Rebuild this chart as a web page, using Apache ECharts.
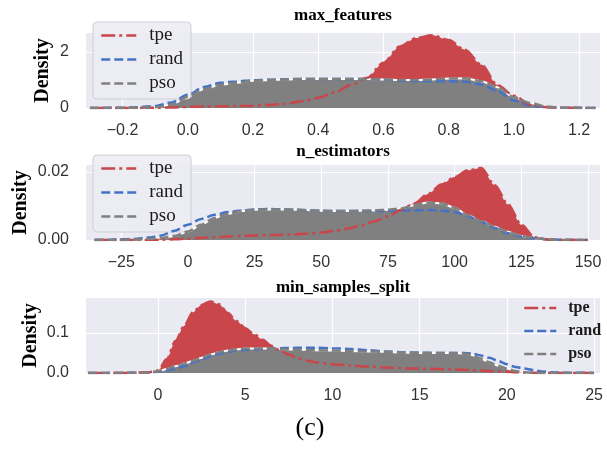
<!DOCTYPE html>
<html>
<head>
<meta charset="utf-8">
<script src="https://cdn.jsdelivr.net/npm/echarts@6/dist/echarts.min.js"></script>
<style>
  html, body { margin: 0; padding: 0; background: #ffffff; }
  #chart { width: 607px; height: 452px; }
</style>
</head>
<body>
<div id="chart"></div>
<script>
// ---- max_features: density curves sampled along x ----
const mfX    = [-0.3,-0.25,-0.2,-0.15,-0.1,-0.05,0,0.05,0.1,0.15,0.2,0.25,0.3,0.35,0.4,0.45,0.5,0.55,0.6,0.65,0.7,0.75,0.8,0.85,0.9,0.95,1.0,1.05,1.1,1.15,1.2,1.25];
const mfTpe  = [0,0,0,0,0.01,0.02,0.04,0.05,0.06,0.07,0.08,0.11,0.15,0.24,0.37,0.55,0.82,1.08,1.62,2.2,2.5,2.6,2.43,2.08,1.55,0.82,0.44,0.12,0.03,0.01,0,0];
const mfRand = [0,0.005,0.01,0.03,0.07,0.2,0.47,0.75,0.9,0.95,0.99,1.01,1.03,1.04,1.04,1.04,1.04,1.04,1.02,0.97,0.96,0.96,0.96,0.94,0.84,0.6,0.27,0.08,0.03,0.01,0.005,0];
const mfPso  = [0,0,0,0.01,0.03,0.12,0.4,0.68,0.83,0.9,0.97,1.0,1.02,1.04,1.04,1.04,1.04,1.04,1.02,1.0,1.0,1.02,1.05,1.06,0.96,0.74,0.38,0.18,0.05,0.01,0,0];
const mfXTicks = [-0.2,0,0.2,0.4,0.6,0.8,1.0,1.2];
const mfYTicks = [0,2];

// ---- n_estimators ----
const neX    = [-35,-30,-25,-20,-15,-10,-5,0,5,10,15,20,25,30,35,40,45,50,55,60,65,70,75,80,85,90,95,100,105,110,115,120,125,130,135,140,145,150];
const neTpe  = [0,0,0,0,0,0.0001,0.0002,0.0004,0.0006,0.0008,0.001,0.0012,0.0013,0.0014,0.0015,0.0017,0.0019,0.0022,0.0027,0.0034,0.0043,0.0055,0.007,0.0089,0.0108,0.0135,0.0163,0.0185,0.0205,0.0212,0.0162,0.0105,0.0045,0.0008,0.0001,0,0,0];
const neRand = [0,0.0001,0.0002,0.0003,0.0007,0.0013,0.0027,0.0045,0.0062,0.0074,0.0082,0.0087,0.009,0.0091,0.009,0.0089,0.0087,0.0086,0.0085,0.0085,0.0085,0.0085,0.0085,0.0086,0.0087,0.0088,0.0087,0.0082,0.0070,0.0054,0.0035,0.002,0.001,0.0005,0.0002,0.0001,0,0];
const nePso  = [0,0,0,0.0001,0.0003,0.0006,0.0012,0.0025,0.0045,0.0065,0.0077,0.0085,0.0089,0.009,0.009,0.0089,0.0088,0.0086,0.0085,0.0085,0.0086,0.0087,0.0089,0.0093,0.0103,0.011,0.0108,0.0095,0.0073,0.0055,0.0039,0.0024,0.0012,0.0005,0.0002,0,0,0];
const neXTicks = [-25,0,25,50,75,100,125,150];
const neYTicks = [0,0.02];

// ---- min_samples_split ----
const msX    = [-4,-3,-2,-1,-0.5,0,0.5,1,1.5,2,2.5,3,3.5,4,4.5,5,5.5,6,6.5,7,7.5,8,8.5,9,10,11,12,13,14,15,16,17,17.5,18,18.5,19,19.5,20,20.5,21,21.5,22,22.5,23,24,25];
const msTpe  = [0,0,0,0.001,0.002,0.006,0.035,0.08,0.118,0.152,0.17,0.179,0.172,0.15,0.13,0.112,0.097,0.083,0.068,0.056,0.046,0.037,0.031,0.027,0.022,0.019,0.016,0.014,0.012,0.011,0.01,0.009,0.008,0.007,0.006,0.005,0.004,0.003,0.002,0.001,0.0005,0,0,0,0,0];
const msRand = [0,0.0001,0.0003,0.0008,0.0015,0.003,0.006,0.011,0.017,0.026,0.034,0.042,0.048,0.053,0.056,0.058,0.059,0.06,0.061,0.062,0.0625,0.063,0.063,0.063,0.062,0.06,0.057,0.054,0.052,0.051,0.05,0.05,0.05,0.049,0.044,0.038,0.03,0.022,0.015,0.011,0.0075,0.004,0.002,0.001,0.0005,0.0002];
const msPso  = [0,0,0.0005,0.001,0.002,0.004,0.01,0.017,0.024,0.03,0.038,0.046,0.052,0.056,0.059,0.061,0.061,0.061,0.061,0.06,0.059,0.058,0.058,0.057,0.056,0.055,0.054,0.053,0.051,0.05,0.05,0.05,0.049,0.045,0.036,0.027,0.018,0.011,0.005,0.002,0.0005,0,0,0,0,0];
const msXTicks = [0,5,10,15,20,25];
const msYTicks = [0,0.1];

const seriesNames = ['tpe', 'rand', 'pso'];

const RED = '#C9464B';
const BLUE = '#4472C4';
const GRAY = '#808080';
const BG = '#EAEAF2';
const SERIF = '"Liberation Serif", "DejaVu Serif", serif';
const SANS = '"Liberation Sans", Arial, sans-serif';

const pairs = (xs, ys) => xs.map((x, i) => [x, ys[i]]);
const minus = s => String(s).replace('-', '\u2212');

function panelSeries(idx, xs, tpe, rand, pso) {
  const base = { type: 'line', xAxisIndex: idx, yAxisIndex: idx, symbol: 'none', showSymbol: false,
                 smooth: 0.3, smoothMonotone: 'x', silent: true };
  return [
    Object.assign({}, base, { name: 'tpe area', data: pairs(xs, tpe), z: 1,
      lineStyle: { width: 0 }, areaStyle: { color: RED, opacity: 1 } }),
    Object.assign({}, base, { name: 'pso area', data: pairs(xs, pso), z: 2,
      lineStyle: { width: 0 }, areaStyle: { color: GRAY, opacity: 1 } }),
    Object.assign({}, base, { name: 'pso edge', data: pairs(xs, pso), z: 3,
      lineStyle: { width: 2, color: '#ffffff' } }),
    Object.assign({}, base, { name: 'rand', data: pairs(xs, rand), z: 4,
      lineStyle: { width: 2.5, color: BLUE, type: [9, 4] }, itemStyle: { color: BLUE } }),
    Object.assign({}, base, { name: 'tpe', data: pairs(xs, tpe), z: 4,
      lineStyle: { width: 2.5, color: RED, type: [14, 4, 3, 4] }, itemStyle: { color: RED } }),
    Object.assign({}, base, { name: 'pso', data: pairs(xs, pso), z: 5,
      lineStyle: { width: 2.5, color: GRAY, type: [9, 4] }, itemStyle: { color: GRAY } })
  ];
}

function xAxisFor(idx, min, max, ticks, fmt) {
  return {
    type: 'value', gridIndex: idx, min: min, max: max,
    axisLine: { show: false },
    axisTick: { show: false, customValues: ticks },
    splitLine: { show: true, lineStyle: { color: '#ffffff', width: 1.2 } },
    axisLabel: { customValues: ticks, formatter: fmt, margin: 15,
                 fontFamily: SANS, fontSize: 16, color: '#333333' }
  };
}

function yAxisFor(idx, max, ticks, fmt, gap) {
  return {
    type: 'value', gridIndex: idx, min: 0, max: max,
    name: 'Density', nameLocation: 'middle', nameGap: gap, nameMoveOverlap: false,
    nameTextStyle: { fontFamily: SERIF, fontWeight: 'bold', fontSize: 20, color: '#000000' },
    axisLine: { show: false },
    axisTick: { show: false, customValues: ticks },
    splitLine: { show: true, lineStyle: { color: '#ffffff', width: 1.2 } },
    axisLabel: { customValues: ticks, formatter: fmt, margin: 17,
                 fontFamily: SANS, fontSize: 16, color: '#333333' }
  };
}

function boxedLegend(top) {
  return {
    orient: 'vertical', left: 93, top: top, padding: [4, 8, 6, 7],
    itemWidth: 35, itemHeight: 14, itemGap: 5, selectedMode: false,
    backgroundColor: 'rgba(236,236,243,0.9)', borderColor: '#cfcfd7', borderWidth: 1, borderRadius: 4,
    textStyle: { fontFamily: SERIF, fontSize: 19, lineHeight: 19, color: '#1a1a1a', padding: [0, 0, 0, 8] },
    itemStyle: { color: 'rgba(0,0,0,0)', borderColor: 'rgba(0,0,0,0)', borderWidth: 0 },
    lineStyle: { width: 2.5 },
    data: seriesNames
  };
}

const grids = [
  { left: 86, top: 33, width: 514, height: 75 },
  { left: 86, top: 165, width: 514, height: 75 },
  { left: 86, top: 298, width: 514, height: 75 }
].map(g => Object.assign({ show: true, backgroundColor: BG, borderWidth: 0 }, g));

const option = {
  animation: false,
  backgroundColor: '#ffffff',
  grid: grids,
  xAxis: [
    xAxisFor(0, -0.312, 1.264, mfXTicks, v => minus(v.toFixed(1))),
    xAxisFor(1, -38.2, 154.5, neXTicks, v => minus(Math.round(v))),
    xAxisFor(2, -4.13, 25.34, msXTicks, v => minus(Math.round(v)))
  ],
  yAxis: [
    yAxisFor(0, 2.68, mfYTicks, v => v.toFixed(0), 33),
    yAxisFor(1, 0.02206, neYTicks, v => v.toFixed(2), 55),
    yAxisFor(2, 0.1875, msYTicks, v => v.toFixed(1), 45)
  ],
  legend: [
    boxedLegend(22),
    boxedLegend(155),
    {
      orient: 'vertical', left: 518, top: 297, padding: [3, 5, 3, 5],
      itemWidth: 32, itemHeight: 12, itemGap: 7, selectedMode: false,
      textStyle: { fontFamily: SERIF, fontWeight: 'bold', fontSize: 16, lineHeight: 16, color: '#1a1a1a', padding: [0, 0, 0, 7] },
      itemStyle: { color: 'rgba(0,0,0,0)', borderColor: 'rgba(0,0,0,0)', borderWidth: 0 },
      lineStyle: { width: 2.5 },
      data: seriesNames
    }
  ],
  graphic: [
    { type: 'text', x: 343, y: 16, style: { text: 'max_features', font: 'bold 17px ' + SERIF, fill: '#000', align: 'center', verticalAlign: 'middle' } },
    { type: 'text', x: 343, y: 152, style: { text: 'n_estimators', font: 'bold 17px ' + SERIF, fill: '#000', align: 'center', verticalAlign: 'middle' } },
    { type: 'text', x: 343, y: 288, style: { text: 'min_samples_split', font: 'bold 17px ' + SERIF, fill: '#000', align: 'center', verticalAlign: 'middle' } },
    { type: 'text', x: 310, y: 428, style: { text: '(c)', font: '26px ' + SERIF, fill: '#000', align: 'center', verticalAlign: 'middle' } }
  ],
  series: [].concat(
    panelSeries(0, mfX, mfTpe, mfRand, mfPso),
    panelSeries(1, neX, neTpe, neRand, nePso),
    panelSeries(2, msX, msTpe, msRand, msPso)
  )
};

const chart = echarts.init(document.getElementById('chart'), null, { renderer: 'canvas' });
chart.setOption(option);
</script>
</body>
</html>
